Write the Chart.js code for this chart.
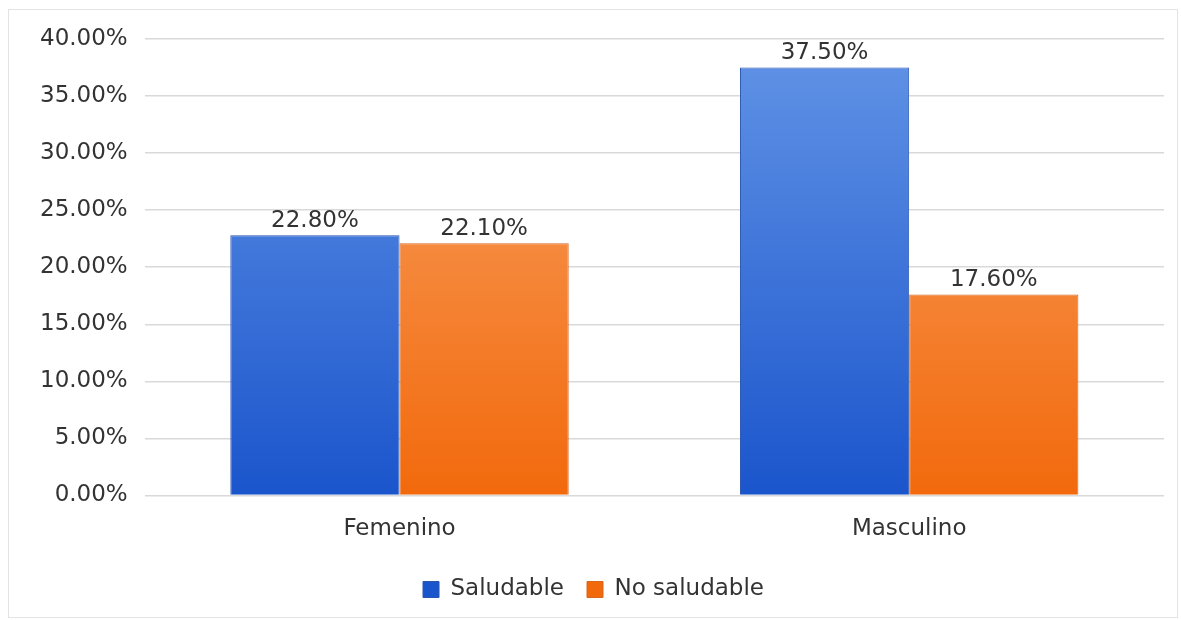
<!DOCTYPE html>
<html lang="es">
<head>
    <meta charset="UTF-8">
    <title>Saludable vs No saludable</title>
    <script src="https://cdn.jsdelivr.net/npm/chart.js@4.4.2/dist/chart.umd.min.js"></script>
    <style>
        body {
          margin: 0;
          padding: 0;
          background-color: #fff;}
        .wrap {
          width: 1181px;
          height: 620px;}
    </style>
</head>
<body>
    <div class="wrap"><canvas id="myChart" width="1181" height="620"></canvas></div>

    <script>
        // Data
        const categories = ['Femenino', 'Masculino'];
        const saludable = [22.8, 37.5];
        const noSaludable = [22.1, 17.6];
        const yTicks = [0, 5, 10, 15, 20, 25, 30, 35, 40];

        const FONT = "'DejaVu Sans', Verdana, sans-serif";

        // vertical gradient for the bars
        function makeGradient(top, bottom) {
            return function(context) {
                const chart = context.chart;
                const area = chart.chartArea;
                if (!area) return bottom;
                const g = chart.ctx.createLinearGradient(0, area.top, 0, area.bottom);
                g.addColorStop(0, top);
                g.addColorStop(1, bottom);
                return g;};}

        // light frame around whole picture
        const framePlugin = {
            id: 'frame',
            beforeDraw(chart) {
                const ctx = chart.ctx;
                ctx.save();
                ctx.strokeStyle = '#e3e3e3';
                ctx.lineWidth = 1;
                ctx.strokeRect(8.5, 9.5, 1169, 608);
                ctx.restore();}};

        // value labels above the bars
        const valueLabels = {
            id: 'valueLabels',
            afterDatasetsDraw(chart) {
                const ctx = chart.ctx;
                ctx.save();
                ctx.font = '23px ' + FONT;
                ctx.fillStyle = '#333';
                ctx.textAlign = 'center';
                ctx.textBaseline = 'bottom';
                chart.data.datasets.forEach((ds, i) => {
                    chart.getDatasetMeta(i).data.forEach((bar, j) => {
                        ctx.fillText(ds.data[j].toFixed(2) + '%', bar.x, bar.y - 3);});});
                ctx.restore();}};

        const ctx = document.getElementById('myChart').getContext('2d');
        const myChart = new Chart(ctx, {
            type: 'bar',
            data: {
                labels: categories,
                datasets: [{
                    label: 'Saludable',
                    data: saludable,
                    backgroundColor: makeGradient('#6294e6', '#1b55cc'),
                    borderColor: '#2a55b0',
                    borderWidth: 1,
                    categoryPercentage: 0.664,
                    barPercentage: 1},
                {
                    label: 'No saludable',
                    data: noSaludable,
                    backgroundColor: makeGradient('#f8a365', '#f2690c'),
                    borderColor: '#d8661e',
                    borderWidth: 1,
                    categoryPercentage: 0.664,
                    barPercentage: 1}]},
            options: {
                responsive: false,
                animation: false,
                layout: {
                    padding: {left: 23, right: 17, top: 39, bottom: 9}},
                scales: {
                    y: {
                        min: 0,
                        max: 40,
                        afterBuildTicks: function(axis) {
                            axis.ticks = yTicks.map(v => ({value: v}));},
                        border: {display: false},
                        grid: {
                            color: '#d9d9d9',
                            lineWidth: 1.5,
                            drawTicks: false},
                        ticks: {
                            padding: 17,
                            color: '#333',
                            font: {family: FONT, size: 23},
                            callback: v => v.toFixed(2) + '%'}},
                    x: {
                        border: {display: false},
                        grid: {display: false},
                        ticks: {
                            padding: 12,
                            color: '#333',
                            font: {family: FONT, size: 23}}}},
                plugins: {
                    legend: {
                        position: 'bottom',
                        labels: {
                            boxWidth: 16,
                            boxHeight: 16,
                            padding: 23,
                            color: '#333',
                            font: {family: FONT, size: 23}}},
                    tooltip: {enabled: false}}},
            plugins: [framePlugin, valueLabels]});
    </script>
</body>
</html>
